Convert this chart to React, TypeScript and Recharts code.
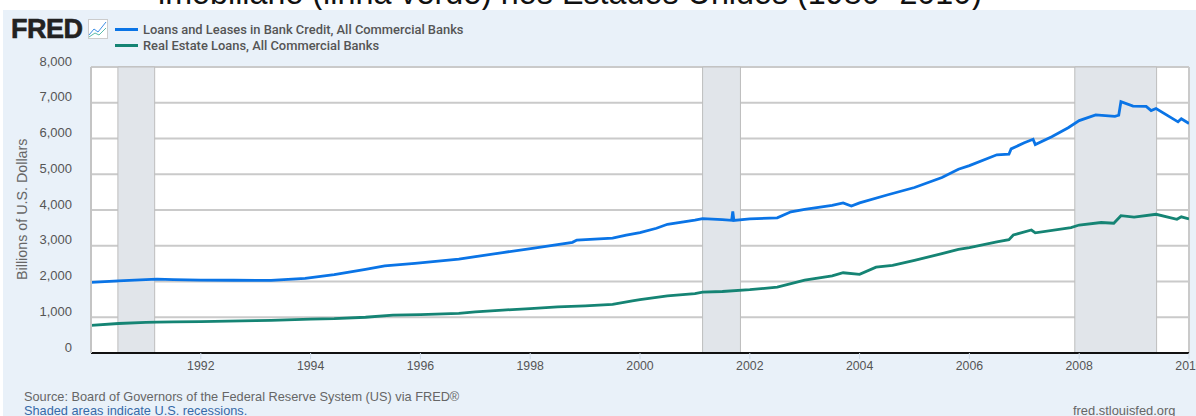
import * as React from "react";
import {
  CartesianGrid,
  Legend,
  Line,
  LineChart,
  ReferenceArea,
  ReferenceLine,
  XAxis,
  YAxis,
} from "recharts";

const loanDates = [
  1990, 1990.5, 1991, 1991.2, 1991.5, 1992, 1992.6, 1993.28, 1993.9, 1994.43, 1995,
  1995.35, 1995.9, 1996.7, 1997.5, 1998.04, 1998.77, 1998.85, 1999.5, 1999.75, 2000,
  2000.3, 2000.5, 2001, 2001.14, 2001.5, 2001.67, 2001.69, 2001.71, 2002, 2002.5,
  2002.75, 2003, 2003.5, 2003.7, 2003.85, 2004, 2004.5, 2005, 2005.5, 2005.8, 2006,
  2006.5, 2006.72, 2006.76, 2007, 2007.16, 2007.2, 2007.5, 2007.8, 2008, 2008.3,
  2008.65, 2008.72, 2008.76, 2008.98, 2009.22, 2009.31, 2009.4, 2009.8, 2009.86,
  2010,
];
const loanValues = [
  1975, 2020, 2055, 2065, 2055, 2040, 2035, 2030, 2085, 2195, 2340,
  2440, 2505, 2626, 2810, 2925, 3095, 3160, 3215, 3295, 3370,
  3490, 3600, 3720, 3760, 3730, 3710, 3960, 3710, 3750, 3780,
  3950, 4020, 4130, 4200, 4110, 4200, 4420, 4630, 4910, 5140, 5240,
  5545, 5560, 5710, 5880, 5980, 5830, 6050, 6300, 6500, 6660,
  6620, 6650, 7030, 6905, 6900, 6780, 6840, 6465, 6550,
  6420,
];

const estateDates = [
  1990, 1990.5, 1991, 1991.2, 1991.5, 1992, 1993, 1993.28, 1994, 1994.43, 1995, 1995.5,
  1996, 1996.7, 1997, 1997.5, 1998, 1998.5, 1999, 1999.5, 1999.86, 2000, 2000.5, 2001,
  2001.14, 2001.5, 2002, 2002.5, 2003, 2003.5, 2003.7, 2004, 2004.3, 2004.6, 2005,
  2005.5, 2005.8, 2006, 2006.5, 2006.72, 2006.8, 2007.13, 2007.2, 2007.85, 2008,
  2008.4, 2008.63, 2008.76, 2009, 2009.4, 2009.78, 2009.86, 2010,
];
const estateValues = [
  772, 825, 855, 866, 870, 880, 905, 912, 945, 960, 1000, 1060,
  1075, 1110, 1150, 1200, 1240, 1290, 1320, 1360, 1455, 1490, 1600, 1660,
  1700, 1720, 1770, 1840, 2040, 2160, 2245, 2200, 2400, 2450, 2590,
  2780, 2900, 2950, 3110, 3170, 3300, 3440, 3360, 3510, 3580,
  3650, 3630, 3840, 3800, 3880, 3740, 3810, 3750,
];

const recessionStarts = [1990.49, 2001.14, 2007.92];
const recessionEnds = [1991.16, 2001.83, 2009.41];

const yTicks = [0, 1000, 2000, 3000, 4000, 5000, 6000, 7000, 8000];
const xTicks = [1992, 1994, 1996, 1998, 2000, 2002, 2004, 2006, 2008, 2010];

const loanRows = loanDates.map((date, i) => ({ date, value: loanValues[i] }));
const estateRows = estateDates.map((date, i) => ({ date, value: estateValues[i] }));

const ARIAL = '"Liberation Sans", Arial, sans-serif';

function SeriesLegend({ payload }: { payload?: readonly any[] }) {
  return (
    <div style={{ fontFamily: "Roboto, sans-serif", fontSize: 12.9, fontWeight: 500, color: "#555", lineHeight: "15.5px", whiteSpace: "nowrap" }}>
      {(payload ?? []).map((item) => (
        <div key={item.value} style={{ display: "flex", alignItems: "center" }}>
          <span style={{ width: 23, height: 3, background: item.color, marginRight: 5 }} />
          {item.value}
        </div>
      ))}
    </div>
  );
}

export default function App() {
  return (
    <div style={{ position: "fixed", left: 0, top: 0, width: 1196, height: 416, overflow: "hidden", background: "#fff" }}>
      <div style={{ position: "absolute", left: 0, width: 1140, top: -26, textAlign: "center", fontFamily: ARIAL, fontSize: 32.3, lineHeight: "38px", color: "#111", whiteSpace: "nowrap" }}>
        imobiliário (linha verde) nos Estados Unidos (1980- 2010)
      </div>
      <div style={{ position: "absolute", left: 3, top: 10, width: 1193, height: 406, background: "#e9f1f9" }} />
      <div style={{ position: "absolute", left: 11, top: 14, fontFamily: ARIAL, fontSize: 27, fontWeight: 700, lineHeight: "30px", color: "#222", letterSpacing: -0.5, WebkitTextStroke: "0.6px #222" }}>
        FRED
      </div>
      <svg style={{ position: "absolute", left: 88, top: 19 }} width={20} height={20}>
        <rect x={0.5} y={0.5} width={19} height={19} fill="#fff" stroke="#ccc" />
        <polyline points="1,16 6,10 10,13 18,3" fill="none" stroke="#3f8fe6" />
        <polyline points="1,18 7,14 11,16 18,9" fill="none" stroke="#5cbcab" />
      </svg>
      <LineChart width={1240} height={416} margin={{ top: 67, right: 51, bottom: 33, left: 0 }} style={{ position: "absolute", left: 0, top: 0 }}>
        <CartesianGrid horizontal={false} vertical={false} fill="#fff" />
        {recessionStarts.map((start, i) => (
          <ReferenceArea key={start} x1={start} x2={recessionEnds[i]} fill="#e1e5ea" fillOpacity={1} stroke="#bdbdbd" strokeWidth={1} />
        ))}
        <CartesianGrid vertical={false} stroke="#cacaca" strokeWidth={2} />
        <ReferenceLine x={2010} stroke="#cacaca" strokeWidth={2} />
        <XAxis
          type="number"
          dataKey="date"
          domain={[1990, 2010]}
          ticks={xTicks}
          allowDataOverflow
          height={30}
          tick={{ fill: "#555", fontSize: 12.3, fontFamily: ARIAL }}
          tickSize={6}
          tickMargin={2}
          tickLine={{ stroke: "#cfdbe8" }}
          axisLine={{ stroke: "#111", strokeWidth: 2 }}
        />
        <YAxis
          type="number"
          dataKey="value"
          domain={[0, 8000]}
          ticks={yTicks}
          width={91}
          interval={0}
          tickFormatter={(v) => Number(v).toLocaleString("en-US")}
          tick={{ fill: "#555", fontSize: 13, fontFamily: ARIAL, dy: -6 }}
          tickLine={false}
          tickMargin={13}
          axisLine={{ stroke: "#c4c4c4", strokeWidth: 2 }}
          label={{ value: "Billions of U.S. Dollars", angle: -90, position: "insideLeft", offset: 22, dy: 70, style: { fill: "#666", fontSize: 14.3, fontFamily: ARIAL } }}
        />
        <Legend
          layout="vertical"
          align="center"
          verticalAlign="middle"
          wrapperStyle={{ left: 115, top: 22, width: "auto" }}
          content={(props: any) => <SeriesLegend payload={props.payload} />}
        />
        <Line data={loanRows} dataKey="value" name="Loans and Leases in Bank Credit, All Commercial Banks" stroke="#0a74e6" strokeWidth={2.8} dot={false} isAnimationActive={false} />
        <Line data={estateRows} dataKey="value" name="Real Estate Loans, All Commercial Banks" stroke="#158474" strokeWidth={2.8} dot={false} isAnimationActive={false} />
      </LineChart>
      <div style={{ position: "absolute", left: 24, top: 390, fontFamily: ARIAL, fontSize: 12.75, lineHeight: "14px", color: "#666" }}>
        Source: Board of Governors of the Federal Reserve System (US) via FRED®
        <div style={{ color: "#3569a8" }}>Shaded areas indicate U.S. recessions.</div>
      </div>
      <div style={{ position: "absolute", left: 1073, top: 404, fontFamily: ARIAL, fontSize: 12.9, lineHeight: "14px", color: "#666" }}>
        fred.stlouisfed.org
      </div>
    </div>
  );
}
